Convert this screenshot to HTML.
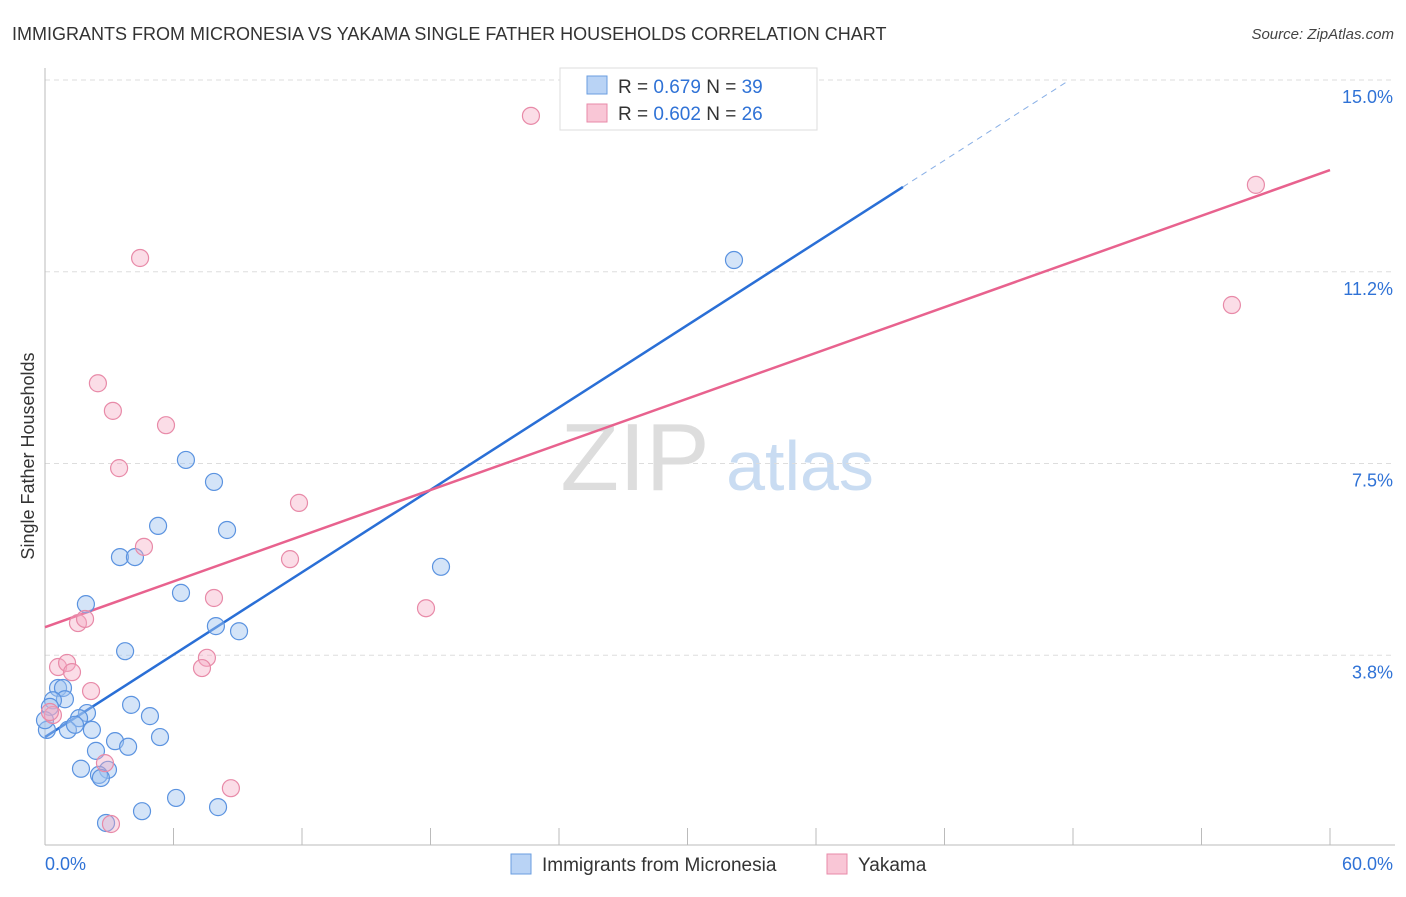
<!DOCTYPE html>
<html><head><meta charset="utf-8"><style>
body{margin:0;background:#fff;font-family:"Liberation Sans",sans-serif;}
svg text{font-family:"Liberation Sans",sans-serif;}
</style></head><body>
<svg id="chart" width="1406" height="892" xmlns="http://www.w3.org/2000/svg">
<text x="12" y="40" font-size="18" fill="#333">IMMIGRANTS FROM MICRONESIA VS YAKAMA SINGLE FATHER HOUSEHOLDS CORRELATION CHART</text>
<text x="1394" y="39" font-size="15" fill="#444" text-anchor="end" font-style="italic">Source: ZipAtlas.com</text>
<text transform="translate(34,456) rotate(-90)" font-size="18" fill="#333" text-anchor="middle">Single Father Households</text>
<g>
<text x="635" y="490" font-size="96" fill="#ddd" font-family="Liberation Serif" text-anchor="middle">ZIP</text>
<text x="800" y="490" font-size="70" fill="#c9dcf2" text-anchor="middle">atlas</text>
</g>
<g id="grid"></g><g id="axes"></g><g id="lines"></g><g id="pts"></g>
<g>
<rect x="560" y="68" width="257" height="62" fill="#fff" stroke="#ddd"/>
<rect x="587" y="76" width="20" height="18" fill="#b9d3f5" stroke="#6a9ee0"/>
<text x="618" y="93" font-size="19" fill="#333">R = <tspan fill="#2f72d6">0.679</tspan>    N = <tspan fill="#2f72d6">39</tspan></text>
<rect x="587" y="104" width="20" height="18" fill="#f9c6d6" stroke="#e88aa8"/>
<text x="618" y="120" font-size="19" fill="#333">R = <tspan fill="#2f72d6">0.602</tspan>    N = <tspan fill="#2f72d6">26</tspan></text>
</g>
<g>
<rect x="511" y="854" width="20" height="20" fill="#b9d3f5" stroke="#6a9ee0"/>
<text x="542" y="871" font-size="19" fill="#333">Immigrants from Micronesia</text>
<rect x="827" y="854" width="20" height="20" fill="#f9c6d6" stroke="#e88aa8"/>
<text x="858" y="871" font-size="19" fill="#333">Yakama</text>
</g>
</svg>
<script>
const xTicks=[0,6,12,18,24,30,36,42,48,54,60];
const yTicks=[3.75,7.5,11.25,15];
const yTickLabels=["3.8%","7.5%","11.2%","15.0%"];
const xEndLabels=["0.0%","60.0%"];
const blueX=[1.91,6.35,7.98,9.06,3.74,0.61,0.84,0.93,0.37,0.23,1.96,1.59,4.02,4.90,5.37,2.19,1.07,1.40,0.09,3.27,3.88,2.38,1.68,2.94,2.52,2.61,6.12,4.53,8.08,2.85,6.58,7.89,5.28,8.50,3.50,4.20,18.49,32.17,0.0];
const blueY=[4.75,4.97,4.32,4.22,3.83,3.11,3.11,2.89,2.87,2.74,2.62,2.52,2.78,2.56,2.15,2.29,2.29,2.39,2.29,2.07,1.96,1.88,1.53,1.51,1.41,1.35,0.96,0.70,0.78,0.47,7.57,7.14,6.28,6.20,5.67,5.67,5.48,11.48,2.48];
const pinkX=[1.54,1.87,7.89,0.61,1.03,1.26,2.15,0.37,0.23,7.56,7.33,2.80,8.68,3.08,22.69,4.44,2.47,3.17,5.65,3.46,11.86,4.62,11.44,17.79,56.54,55.42];
const pinkY=[4.38,4.46,4.87,3.52,3.60,3.42,3.05,2.58,2.64,3.70,3.50,1.64,1.15,0.45,14.30,11.52,9.07,8.53,8.25,7.41,6.73,5.87,5.63,4.67,12.95,10.60];
const blueTrend=[2.15,0.2686]; // intercept, slope
const pinkTrend=[4.30,0.149];
const NS="http://www.w3.org/2000/svg";
const X=v=>45+v/60*1285, Y=v=>847-v*51.13;
function mk(p,t,a){const e=document.createElementNS(NS,t);for(const k in a)e.setAttribute(k,a[k]);document.getElementById(p).appendChild(e);return e;}
yTicks.forEach((t,i)=>{
 const l=mk('grid','line',{x1:45,x2:1395,y1:Y(t),y2:Y(t),stroke:'#ddd','stroke-dasharray':'5,4'});
 
 
 const tx=mk('grid','text',{x:1393,y:Y(t)+23,'font-size':18,fill:'#2f72d6','text-anchor':'end'});tx.textContent=yTickLabels[i];
 
 
});
const ax=mk('axes','line',{x1:45,x2:45,y1:68,y2:845,stroke:'#bbb'});


const bx=mk('axes','line',{x1:45,x2:1395,y1:845,y2:845,stroke:'#bbb'});


xTicks.forEach(t=>{const l=mk('axes','line',{x1:X(t),x2:X(t),y1:828,y2:845,stroke:'#bbb'});
 
 });
[[0,'start',45],[60,'end',1393]].forEach((d,i)=>{const tx=mk('axes','text',{x:d[2],y:870,'font-size':18,fill:'#2f72d6','text-anchor':d[1]});tx.textContent=xEndLabels[i];
 
 });
function trend(tr,x0,x1,col,dash){const l=mk('lines','line',{x1:X(x0),y1:Y(tr[0]+tr[1]*x0),x2:X(x1),y2:Y(tr[0]+tr[1]*x1),stroke:col,'stroke-width':dash?1:2.5});if(dash)l.setAttribute('stroke-dasharray','6,5');return l;}
const xMaxB=(15-blueTrend[0])/blueTrend[1];
let t1=trend(blueTrend,0,40.06,'#2a6fd6',false);


let t2=trend(blueTrend,40.06,xMaxB,'#8ab0e6',true);


let t3=trend(pinkTrend,0,60,'#e8628e',false);


blueX.forEach((v,i)=>{const c=mk('pts','circle',{cx:X(v),cy:Y(blueY[i]),r:8.5,fill:'rgba(160,196,240,0.45)',stroke:'#5b93e0','stroke-width':1.2});
 
 });
pinkX.forEach((v,i)=>{const c=mk('pts','circle',{cx:X(v),cy:Y(pinkY[i]),r:8.5,fill:'rgba(245,170,195,0.4)',stroke:'#e88aa8','stroke-width':1.2});
 
 });
</script>
</body></html>
